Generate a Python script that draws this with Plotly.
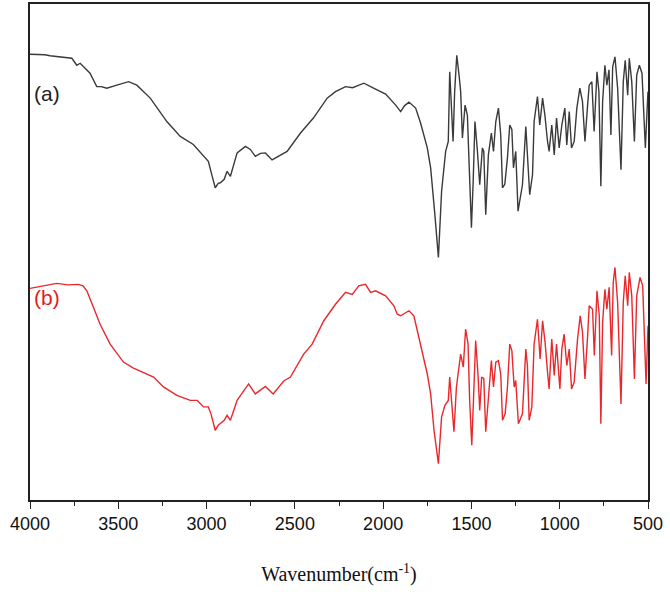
import plotly.graph_objects as go

# FTIR spectrum (a) - wavenumber (cm-1) and transmittance (a.u.)
wn_a = [4000, 3915, 3887, 3830, 3792, 3763, 3735, 3716, 3660, 3622, 3597, 3565, 3508, 3442, 3395,
        3319, 3225, 3149, 3075, 3026, 2990, 2968, 2951, 2934, 2922, 2900, 2884, 2865, 2827, 2780,
        2752, 2724, 2695, 2667, 2629, 2544, 2468, 2395, 2317, 2270, 2213, 2173, 2109, 2043, 1986,
        1929, 1901, 1878, 1854, 1816, 1788, 1750, 1731, 1707, 1687, 1669, 1646, 1631, 1623, 1612,
        1604, 1595, 1583, 1570, 1561, 1551, 1536, 1523, 1510, 1500, 1490, 1480, 1466, 1453, 1438,
        1430, 1419, 1404, 1387, 1375, 1362, 1347, 1334, 1324, 1311, 1296, 1283, 1271, 1262, 1249,
        1236, 1211, 1192, 1183, 1170, 1154, 1145, 1126, 1113, 1097, 1084, 1069, 1060, 1045, 1031,
        1018, 1003, 988, 971, 960, 946, 933, 918, 903, 886, 871, 857, 842, 833, 818,
        805, 789, 778, 767, 757, 744, 733, 721, 710, 700, 687, 672, 653, 640, 629,
        615, 606, 592, 577, 564, 549, 534, 515, 502, 500]
t_a = [89.5, 89.4, 89.2, 89.0, 88.8, 88.7, 87.3, 87.7, 85.7, 83.0, 83.0, 82.7, 83.3, 84.0, 83.3,
       80.7, 76.0, 73.0, 71.4, 69.4, 68.0, 65.0, 62.7, 63.6, 63.7, 64.4, 66.0, 65.0, 69.7, 71.0,
       70.4, 69.0, 69.6, 69.7, 68.3, 70.0, 73.7, 76.7, 80.7, 82.0, 83.0, 82.8, 83.7, 82.5, 81.5,
       79.3, 78.0, 79.2, 79.9, 78.7, 75.7, 70.7, 66.7, 57.3, 48.7, 62.0, 70.0, 72.0, 86.0, 78.0,
       72.0, 82.0, 89.3, 85.3, 82.0, 72.7, 79.3, 77.3, 64.0, 54.7, 64.0, 76.0, 70.0, 63.3, 70.7,
       70.0, 57.3, 69.3, 73.7, 70.0, 76.0, 78.7, 73.3, 62.7, 63.4, 68.7, 75.3, 74.4, 66.7, 70.0,
       58.0, 63.3, 75.0, 69.3, 61.3, 65.3, 76.0, 81.0, 75.3, 80.7, 77.3, 72.0, 70.0, 75.3, 69.3,
       76.7, 70.7, 75.3, 78.7, 71.3, 78.0, 70.7, 72.0, 78.7, 82.7, 80.0, 72.0, 79.3, 83.3, 84.0,
       74.0, 86.0, 82.0, 63.0, 80.0, 87.3, 83.3, 86.4, 73.3, 87.0, 89.0, 82.7, 66.3, 84.0, 88.3,
       81.3, 88.7, 84.0, 72.0, 85.3, 87.3, 85.7, 70.7, 80.7, 82.0]

# FTIR spectrum (b)
wn_b = [4000, 3915, 3849, 3785, 3726, 3700, 3678, 3641, 3603, 3546, 3471, 3414, 3338, 3300, 3244,
        3168, 3092, 3053, 3017, 2990, 2975, 2951, 2934, 2922, 2900, 2884, 2865, 2827, 2762, 2724,
        2667, 2623, 2563, 2525, 2450, 2402, 2336, 2270, 2213, 2175, 2138, 2100, 2071, 2043, 1986,
        1939, 1920, 1901, 1854, 1826, 1788, 1750, 1731, 1712, 1687, 1669, 1650, 1631, 1623, 1612,
        1599, 1585, 1561, 1546, 1533, 1519, 1510, 1498, 1485, 1476, 1463, 1453, 1442, 1430, 1419,
        1404, 1387, 1375, 1362, 1347, 1334, 1324, 1309, 1296, 1283, 1271, 1258, 1249, 1234, 1211,
        1192, 1183, 1173, 1158, 1145, 1126, 1111, 1097, 1083, 1069, 1060, 1045, 1031, 1018, 999,
        988, 975, 960, 946, 933, 918, 899, 884, 871, 857, 842, 833, 814, 804, 789,
        776, 767, 757, 744, 733, 720, 706, 697, 687, 672, 653, 640, 629, 615, 606,
        592, 577, 564, 545, 530, 511, 500]
t_b = [42.5, 43.0, 43.5, 43.2, 43.3, 43.0, 42.0, 38.7, 35.3, 31.3, 27.7, 26.5, 25.3, 24.7, 22.7,
       21.0, 20.0, 20.0, 18.7, 18.7, 17.3, 14.0, 15.0, 15.3, 16.0, 17.0, 16.0, 20.0, 23.3, 21.3,
       22.8, 21.3, 23.9, 24.7, 29.3, 31.3, 36.0, 39.3, 41.7, 41.3, 43.0, 43.3, 41.7, 42.0, 41.0,
       39.0, 37.3, 37.0, 38.0, 37.0, 31.3, 25.3, 21.3, 14.0, 7.3, 16.7, 19.0, 20.0, 24.7, 20.0,
       13.7, 22.7, 29.3, 26.7, 34.3, 31.3, 20.0, 11.0, 24.0, 32.0, 25.3, 18.0, 24.7, 24.4, 13.7,
       21.3, 28.0, 22.7, 27.7, 28.0, 25.3, 16.0, 17.3, 22.7, 31.3, 30.0, 22.7, 24.0, 15.3, 17.3,
       30.3, 27.0, 16.0, 18.7, 31.3, 36.3, 28.3, 36.0, 31.7, 25.7, 22.3, 32.3, 25.0, 31.3, 22.3,
       30.3, 33.3, 27.0, 30.3, 22.3, 23.7, 32.3, 37.0, 33.7, 24.3, 33.0, 39.0, 38.3, 29.0, 42.0,
       37.0, 15.3, 35.7, 42.3, 38.3, 42.7, 29.0, 43.7, 46.7, 39.7, 19.3, 39.7, 45.0, 39.0, 45.7,
       41.0, 24.3, 41.0, 44.7, 43.0, 23.3, 35.0]

x_ticks = [4000, 3500, 3000, 2500, 2000, 1500, 1000, 500]
labels = ["(a)", "(b)"]
label_y = [81.6, 40.6]

fig = go.Figure()
fig.add_trace(go.Scatter(x=wn_a, y=t_a, mode="lines",
                         line=dict(color="#3a3a3a", width=1.4), showlegend=False))
fig.add_trace(go.Scatter(x=wn_b, y=t_b, mode="lines",
                         line=dict(color="#e8282c", width=1.4), showlegend=False))

for lab, ly, col in zip(labels, label_y, ["#222222", "#e31b1b"]):
    fig.add_annotation(x=0.004, xref="paper", y=ly, yref="y", text=lab, showarrow=False,
                       xanchor="left", yanchor="middle",
                       font=dict(family="Liberation Sans, Arial", size=21, color=col))

fig.update_layout(
    width=670, height=595,
    margin=dict(l=30, r=22, t=2, b=95),
    paper_bgcolor="white", plot_bgcolor="white",
    xaxis=dict(range=[4000, 500], tickvals=x_ticks, ticktext=[str(v) for v in x_ticks],
               ticks="outside", ticklen=7, tickwidth=1.3, tickcolor="#222",
               minor=dict(ticks="outside", ticklen=4, tickwidth=1.2, tickcolor="#222", dtick=250, tick0=500),
               showline=True, linecolor="#222", linewidth=1.5, mirror=True,
               showgrid=False, zeroline=False,
               tickfont=dict(family="Liberation Sans, Arial", size=18, color="#111"),
               title=dict(text="Wavenumber(cm<sup>-1</sup>)", standoff=34,
                          font=dict(family="Liberation Serif, Times New Roman", size=20, color="#111"))),
    yaxis=dict(range=[0, 99.6], showticklabels=False, ticks="", showline=True, linecolor="#222",
               linewidth=1.5, mirror=True, showgrid=False, zeroline=False),
)

fig.write_html("out.html")
